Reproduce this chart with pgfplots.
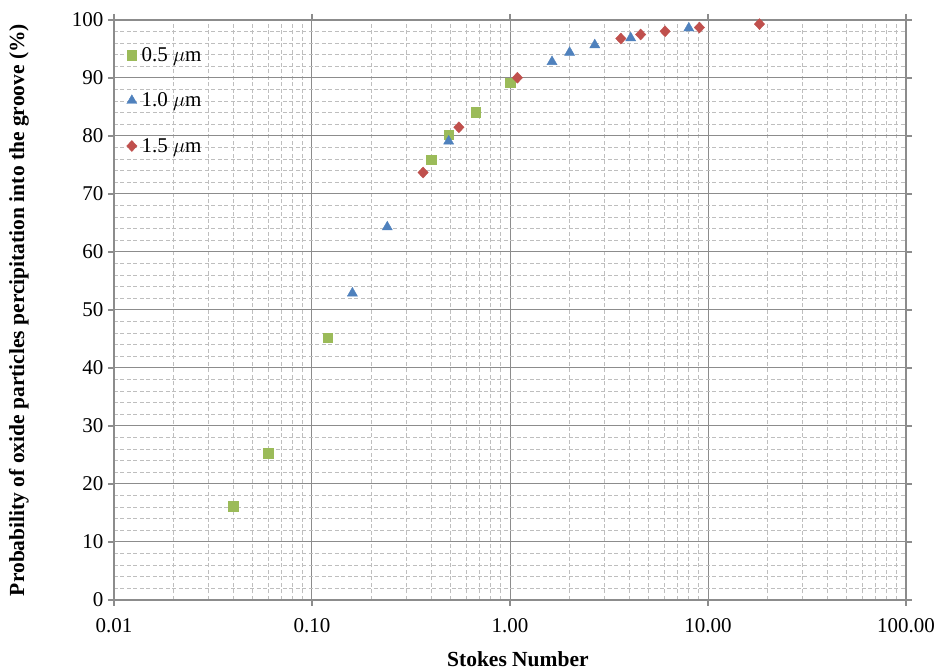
\documentclass[border=0pt]{standalone}
\usepackage{pgfplots}
\pgfplotsset{compat=1.18}
\usepackage{fontspec}
\setmainfont{Liberation Serif}
\definecolor{cgreen}{HTML}{9BBB59}
\definecolor{cblue}{HTML}{4F81BD}
\definecolor{cred}{HTML}{C0504D}
\definecolor{axgray}{HTML}{8C8C8C}
\definecolor{mingray}{HTML}{BEBEBE}
\begin{document}
\begin{tikzpicture}
\path[use as bounding box] (-114pt,-71pt) rectangle (820pt,600pt);
\begin{axis}[
  at={(0pt,0pt)}, anchor=south west,
  scale only axis, width=792pt, height=580pt,
  xmode=log, xmin=0.01, xmax=100, ymin=0, ymax=100,
  xtick={0.01,0.1,1,10,100},
  xticklabels={0.01,0.10,1.00,10.00,100.00},
  ytick={0,10,...,100},
  minor y tick num=4,
  grid=both,
  major grid style={color=axgray, line width=1pt},
  minor grid style={color=mingray, line width=1pt, dash pattern=on 4pt off 2.5pt},
  axis line style={color=axgray, line width=1.4pt},
  tick align=outside,
  major tick length=6pt, minor tick length=0pt,
  tick style={color=axgray, line width=1.2pt},
  /pgf/number format/assume math mode=true,
  ticklabel style={font=\fontsize{21}{25}\selectfont},
  xticklabel style={yshift=-9pt},
  yticklabel style={xshift=-1pt},
  label style={font=\fontsize{21.5}{25}\selectfont\bfseries},
  xlabel={Stokes Number},
  ylabel={Probability of oxide particles percipitation into the groove (\%)},
  xlabel style={at={(axis description cs:0.51,-0.102)}, anchor=center},
  ylabel style={at={(axis description cs:-0.120,0.5)}, anchor=center},
  legend style={draw=none, fill=none, at={(axis description cs:0.012,0.96)}, anchor=north west,
    font=\fontsize{21}{25}\selectfont, row sep=26pt, nodes={inner xsep=4.5pt}},
  legend cell align=left,
]
\addplot[only marks, mark=square*, mark size=4.8pt, color=cgreen] coordinates {
(0.04,16.2) (0.06,25.3) (0.12,45.2) (0.40,75.9) (0.49,80.2) (0.67,84.1) (1.0,89.2)
};
\addlegendentry{0.5 $\mu$m}
\addplot[only marks, mark=triangle*, mark size=5.8pt, color=cblue] coordinates {
(0.16,52.9) (0.24,64.3) (0.49,79.1) (1.63,92.8) (2.0,94.4) (2.68,95.7) (4.07,96.9) (8.0,98.6)
};
\addlegendentry{1.0 $\mu$m}
\addplot[only marks, mark=diamond*, mark size=5.5pt, mark options={xscale=1.25}, color=cred] coordinates {
(0.364,73.7) (0.552,81.5) (1.09,90.05) (3.63,96.8) (4.57,97.5) (6.07,98.05) (9.05,98.7) (18.2,99.3)
};
\addlegendentry{1.5 $\mu$m}
\end{axis}
\end{tikzpicture}
\end{document}
